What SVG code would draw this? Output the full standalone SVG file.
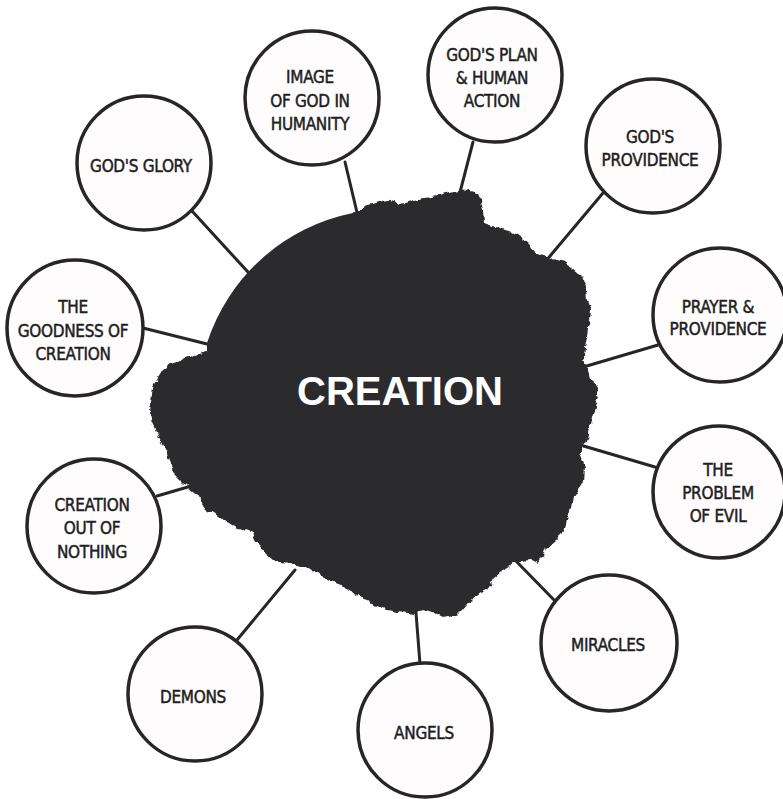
<svg xmlns="http://www.w3.org/2000/svg" width="783" height="799" viewBox="0 0 783 799">
<defs>
<filter id="rough" x="-10%" y="-10%" width="120%" height="120%" color-interpolation-filters="sRGB">
<feTurbulence type="fractalNoise" baseFrequency="0.09" numOctaves="3" seed="4" result="n"/>
<feDisplacementMap in="SourceGraphic" in2="n" scale="9" xChannelSelector="R" yChannelSelector="G"/>
</filter>
</defs>
<style>
.bg{fill:#ffffff}
.conn line{stroke:#262626;stroke-width:3;stroke-linecap:round}
.node circle{fill:#fefcfd;stroke:#262626;stroke-width:3.5}
.node text{font-family:"DejaVu Sans Condensed","Liberation Sans",sans-serif;font-size:17px;fill:#1e1e1e;stroke:#1e1e1e;stroke-width:0.45;letter-spacing:-0.3px;text-anchor:middle}
.blob{fill:#2b2b2d}
.title{font-family:"Liberation Sans","DejaVu Sans",sans-serif;font-weight:bold;font-size:40px;fill:#ffffff;text-anchor:middle}
</style>
<rect class="bg" x="0" y="0" width="783" height="799"/>
<g id="connectors" class="conn">
<line x1="192" y1="211" x2="258" y2="283"/>
<line x1="345" y1="162" x2="360" y2="225"/>
<line x1="143" y1="328" x2="215" y2="346"/>
<line x1="473" y1="142" x2="458" y2="200"/>
<line x1="603" y1="193" x2="545" y2="262"/>
<line x1="658" y1="345" x2="580" y2="368"/>
<line x1="655" y1="467" x2="570" y2="442"/>
<line x1="556" y1="602" x2="515" y2="560"/>
<line x1="420" y1="664" x2="415" y2="600"/>
<line x1="237" y1="640" x2="295" y2="570"/>
<line x1="157" y1="496" x2="205" y2="482"/>
</g>
<g id="creation">
<path class="blob" filter="url(#rough)" d="M230,330 L360,208 L367,205 L377,203 L387,200 L397,204 L407,203 L418,199 L430,197 L440,196 L450,193 L460,191 L470,190 L477,194 L480,200 L482,212 L483,223 L492,226 L500,230 L510,232 L520,237 L528,243 L537,253 L547,256 L557,260 L565,262 L573,267 L579,272 L583,280 L586,290 L587,300 L591,310 L590,320 L588,328 L587,337 L585,348 L583,360 L588,370 L590,380 L597,386 L600,393 L596,403 L593,413 L590,425 L587,437 L584,447 L580,457 L584,468 L583,480 L578,489 L573,497 L572,505 L570,513 L566,523 L563,533 L555,540 L547,547 L544,556 L540,563 L532,559 L523,560 L515,563 L507,567 L500,571 L493,577 L490,584 L487,590 L480,593 L473,597 L467,605 L460,613 L450,616 L440,617 L432,613 L423,610 L415,614 L407,613 L397,612 L387,610 L377,606 L367,600 L358,597 L350,593 L345,588 L340,583 L327,578 L313,573 L300,567 L290,563 L281,562 L273,560 L266,554 L260,547 L256,540 L253,533 L245,530 L237,527 L228,521 L220,517 L213,514 L207,510 L203,503 L200,497 L193,492 L187,487 L180,480 L173,473 L170,463 L167,453 L162,443 L157,433 L152,423 L150,413 L151,400 L153,387 L158,378 L163,370 L172,364 L183,360 L193,356 L203,353 L215,350 Z"/>
<path class="blob" d="M207,350 L207,343 A193,193 0 0 1 353,213 L365,214 L400,245 L420,420 L260,470 L210,420 Z"/>
<text class="title" x="400" y="405">CREATION</text>
</g>
<g id="gods-glory" class="node"><circle cx="144" cy="163" r="67"/><text x="141" y="172">GOD'S GLORY</text></g>
<g id="image-of-god" class="node"><circle cx="312" cy="98" r="67"/><text x="310" y="83">IMAGE</text><text x="310" y="107">OF GOD IN</text><text x="310" y="130">HUMANITY</text></g>
<g id="gods-plan" class="node"><circle cx="495" cy="75" r="67"/><text x="492" y="61">GOD'S PLAN</text><text x="492" y="84">&amp; HUMAN</text><text x="492" y="107">ACTION</text></g>
<g id="gods-providence" class="node"><circle cx="653" cy="146" r="67"/><text x="650" y="143">GOD'S</text><text x="650" y="166">PROVIDENCE</text></g>
<g id="prayer" class="node"><circle cx="720" cy="315" r="67"/><text x="718" y="313">PRAYER &amp;</text><text x="718" y="335">PROVIDENCE</text></g>
<g id="goodness" class="node"><circle cx="75" cy="328" r="68"/><text x="73" y="313">THE</text><text x="73" y="337">GOODNESS OF</text><text x="73" y="360">CREATION</text></g>
<g id="problem-of-evil" class="node"><circle cx="719" cy="492" r="66"/><text x="718" y="476">THE</text><text x="718" y="499">PROBLEM</text><text x="718" y="522">OF EVIL</text></g>
<g id="out-of-nothing" class="node"><circle cx="94" cy="526" r="67"/><text x="92" y="511">CREATION</text><text x="92" y="534">OUT OF</text><text x="92" y="558">NOTHING</text></g>
<g id="miracles" class="node"><circle cx="609" cy="643" r="68"/><text x="608" y="651">MIRACLES</text></g>
<g id="demons" class="node"><circle cx="195" cy="694" r="67"/><text x="193" y="703">DEMONS</text></g>
<g id="angels" class="node"><circle cx="425" cy="730" r="67"/><text x="424" y="739">ANGELS</text></g>
</svg>
